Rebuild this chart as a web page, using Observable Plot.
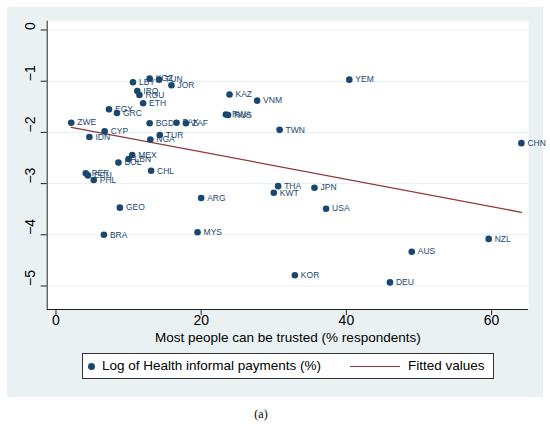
<!DOCTYPE html>
<html><head><meta charset="utf-8">
<script src="https://cdn.jsdelivr.net/npm/d3@7"></script>
<script src="https://cdn.jsdelivr.net/npm/@observablehq/plot@0.6"></script>
<style>
body{margin:0;background:#fff;}
#wrap{position:relative;width:550px;height:426px;font-family:"Liberation Sans",Arial,sans-serif;overflow:hidden;}
#bg{position:absolute;left:7px;top:7px;width:536px;height:390px;background:#eaf1f3;}
#chart{position:absolute;left:0;top:0;}
#legend{position:absolute;left:82px;top:353px;width:410px;height:24px;border:1px solid #333;background:#fff;font-size:13.5px;}
#legend .dot{position:absolute;left:5px;top:9px;width:7px;height:7px;border-radius:50%;background:#1a476f;}
#legend .t1{position:absolute;left:19px;top:4px;white-space:nowrap;}
#legend .ln{position:absolute;left:267px;top:12px;width:50px;height:0;border-top:1.4px solid #90353b;}
#legend .t2{position:absolute;left:325px;top:4px;white-space:nowrap;}
#cap{position:absolute;left:0;top:407px;width:522px;text-align:center;font-family:"Liberation Serif","DejaVu Serif",serif;font-size:12px;}
</style>
</head><body>
<div id="wrap">
  <div id="bg"></div>
  <div id="chart"></div>
  <div id="legend"><div class="dot"></div><div class="t1">Log of Health informal payments (%)</div><div class="ln"></div><div class="t2">Fitted values</div></div>
  <div id="cap">(a)</div>
</div>
<script>
const countries = ["LBY","KGZ","TUN","JOR","IRQ","ROU","ETH","EGY","GRC","ZWE","BGD","PAK","ZAF","CYP","IDN","TUR","NGA","MEX","LBN","BOL","CHL","PER","ECU","PHL","ARG","GEO","BRA","MYS","YEM","KAZ","VNM","RWA","RUS","TWN","CHN","THA","KWT","JPN","USA","NZL","AUS","KOR","DEU"];
const trust = [10.6,12.9,14.2,15.9,11.2,11.5,12.0,7.3,8.4,2.1,12.9,16.6,17.9,6.7,4.6,14.3,13.0,10.5,10.0,8.6,13.1,4.1,4.4,5.2,20.0,8.8,6.6,19.5,40.4,23.9,27.7,23.4,23.7,30.8,64.1,30.6,30.0,35.6,37.2,59.6,49.0,32.9,46.0];
const logPay = [-1.02,-0.95,-0.97,-1.08,-1.19,-1.27,-1.43,-1.55,-1.62,-1.81,-1.82,-1.81,-1.82,-1.98,-2.09,-2.05,-2.14,-2.44,-2.52,-2.59,-2.75,-2.80,-2.84,-2.93,-3.28,-3.47,-4.00,-3.95,-0.97,-1.26,-1.38,-1.65,-1.66,-1.95,-2.21,-3.05,-3.18,-3.08,-3.49,-4.08,-4.33,-4.79,-4.93];
const fitX = [2.1, 64.1];
const fitY = [-1.90, -3.56];
const xTicks = [0, 20, 40, 60];
const yTicks = [0, -1, -2, -3, -4, -5];
const yTickLabels = ["0", "\u22121", "\u22122", "\u22123", "\u22124", "\u22125"];
const xTitle = "Most people can be trusted (% respondents)";

const pts = countries.map((c, i) => ({c, x: trust[i], y: logPay[i]}));
const fit = fitX.map((x, i) => ({x, y: fitY[i]}));
const xDom = [-1.21, 65.08], yDom = [-5.459, 0.172];
const navy = "#1a476f", axisCol = "#222";

const plot = Plot.plot({
  width: 550, height: 426,
  marginLeft: 46.7, marginRight: 22, marginTop: 20.7, marginBottom: 117,
  style: {background: "transparent", fontFamily: "Liberation Sans, Arial, sans-serif", color: "#000", overflow: "visible"},
  x: {domain: xDom, label: null},
  y: {domain: yDom, label: null},
  marks: [
    Plot.frame({fill: "white", stroke: null}),
    Plot.gridY(yTicks, {stroke: "#e4eef1", strokeOpacity: 1, strokeWidth: 1}),
    Plot.axisX(xTicks, {tickSize: 6, tickPadding: 0, fontSize: 14, stroke: axisCol, label: null, tickFormat: d => String(d)}),
    Plot.axisY(yTicks, {tickSize: 6, stroke: axisCol, label: null, tickFormat: () => ""}),
    Plot.text(yTicks, {y: d => d, text: (d, i) => yTickLabels[i], frameAnchor: "left", dx: -17, rotate: -90, fontSize: 14, fill: "#000"}),
    Plot.ruleX([xDom[0]], {stroke: axisCol, strokeWidth: 1}),
    Plot.ruleY([yDom[0]], {stroke: axisCol, strokeWidth: 1}),
    Plot.text([xTitle], {frameAnchor: "bottom", dy: 32, fontSize: 13.5, fill: "#000"}),
    Plot.line(fit, {x: "x", y: "y", stroke: "#90353b", strokeWidth: 1.3}),
    Plot.dot(pts, {x: "x", y: "y", r: 3.3, fill: navy, stroke: null}),
    Plot.text(pts, {x: "x", y: "y", text: "c", dx: 6, textAnchor: "start", fontSize: 8.5, fill: navy})
  ]
});
document.getElementById("chart").appendChild(plot);
</script>
</body></html>
